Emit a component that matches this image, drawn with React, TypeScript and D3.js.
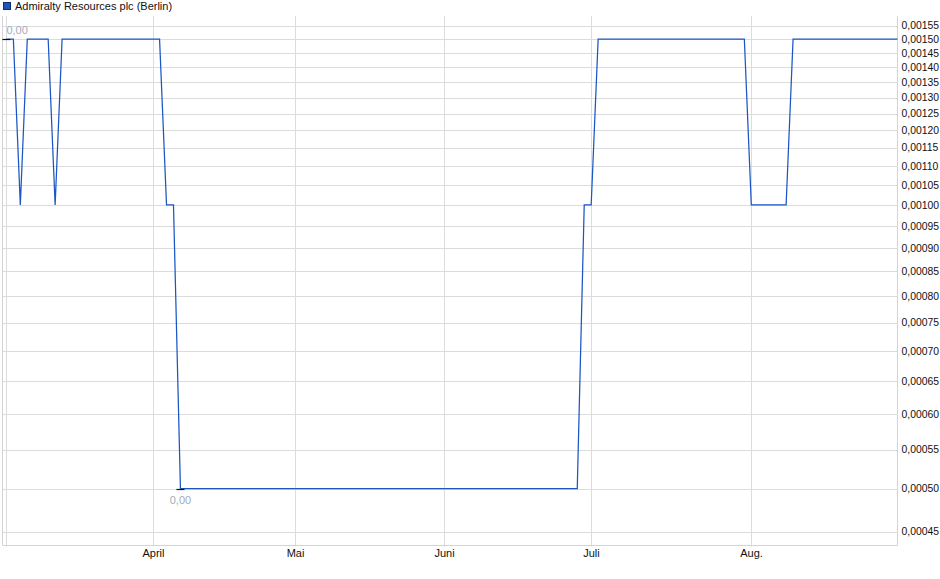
import { useEffect, useRef } from 'react'
import * as d3 from 'd3'

// Admiralty Resources plc (Berlin), one value per trading day (Feb 29 .. Aug 30)
const prices: number[] = [
  0.0015, 0.0015, 0.0010, 0.0015, 0.0015, 0.0015, 0.0015, 0.0010, 0.0015, 0.0015,
  0.0015, 0.0015, 0.0015, 0.0015, 0.0015, 0.0015, 0.0015, 0.0015, 0.0015, 0.0015,
  0.0015, 0.0015, 0.0015, 0.0010, 0.0010, 0.0005, 0.0005, 0.0005, 0.0005, 0.0005,
  0.0005, 0.0005, 0.0005, 0.0005, 0.0005, 0.0005, 0.0005, 0.0005, 0.0005, 0.0005,
  0.0005, 0.0005, 0.0005, 0.0005, 0.0005, 0.0005, 0.0005, 0.0005, 0.0005, 0.0005,
  0.0005, 0.0005, 0.0005, 0.0005, 0.0005, 0.0005, 0.0005, 0.0005, 0.0005, 0.0005,
  0.0005, 0.0005, 0.0005, 0.0005, 0.0005, 0.0005, 0.0005, 0.0005, 0.0005, 0.0005,
  0.0005, 0.0005, 0.0005, 0.0005, 0.0005, 0.0005, 0.0005, 0.0005, 0.0005, 0.0005,
  0.0005, 0.0005, 0.0005, 0.0010, 0.0010, 0.0015, 0.0015, 0.0015, 0.0015, 0.0015,
  0.0015, 0.0015, 0.0015, 0.0015, 0.0015, 0.0015, 0.0015, 0.0015, 0.0015, 0.0015,
  0.0015, 0.0015, 0.0015, 0.0015, 0.0015, 0.0015, 0.0015, 0.0010, 0.0010, 0.0010,
  0.0010, 0.0010, 0.0010, 0.0015, 0.0015, 0.0015, 0.0015, 0.0015, 0.0015, 0.0015,
  0.0015, 0.0015, 0.0015, 0.0015, 0.0015, 0.0015, 0.0015, 0.0015, 0.0015,
]

// month gridlines, in trading-day positions
const monthTicks = [0, 21, 41.5, 62.8, 84, 107]
const monthLabels = ['', 'April', 'Mai', 'Juni', 'Juli', 'Aug.']

const priceTicks = [
  0.00045, 0.0005, 0.00055, 0.0006, 0.00065, 0.0007, 0.00075, 0.0008, 0.00085,
  0.0009, 0.00095, 0.001, 0.00105, 0.0011, 0.00115, 0.0012, 0.00125, 0.0013,
  0.00135, 0.0014, 0.00145, 0.0015, 0.00155,
]

const seriesName = 'Admiralty Resources plc (Berlin)'

const width = 940
const height = 579

export default function App() {
  const svgRef = useRef<SVGSVGElement>(null)

  useEffect(() => {
    if (!svgRef.current) return
    const svg = d3.select(svgRef.current)
    svg.selectAll('*').remove()

    const left = 2.5
    const right = 897.5
    const top = 16
    const bottom = 545.5
    const font = '"Liberation Sans", Arial, sans-serif'

    const x = d3.scaleLinear().domain([0, prices.length - 1]).range([6.4, 897.5])
    const y = d3.scaleLog().domain([0.000435, 0.001587]).range([bottom, top])

    // horizontal grid
    svg.append('g')
      .selectAll('line')
      .data(priceTicks)
      .enter()
      .append('line')
      .attr('x1', left)
      .attr('x2', right)
      .attr('y1', d => Math.round(y(d)) + 0.5)
      .attr('y2', d => Math.round(y(d)) + 0.5)
      .attr('stroke', '#dcdcdc')

    // vertical grid
    svg.append('g')
      .selectAll('line')
      .data(monthTicks)
      .enter()
      .append('line')
      .attr('x1', d => Math.round(x(d)) + 0.5)
      .attr('x2', d => Math.round(x(d)) + 0.5)
      .attr('y1', top)
      .attr('y2', bottom + 1)
      .attr('stroke', '#dcdcdc')

    // frame (left, bottom, right)
    svg.append('path')
      .attr('d', `M${left},${top}V${bottom}H${right}V${top}`)
      .attr('fill', 'none')
      .attr('stroke', '#d4d4d4')

    // y labels on the right
    svg.append('g')
      .selectAll('text')
      .data(priceTicks)
      .enter()
      .append('text')
      .attr('x', 901.5)
      .attr('y', d => y(d))
      .attr('dy', '0.35em')
      .style('font-family', font)
      .style('font-size', '10.4px')
      .style('fill', '#111')
      .text(d => d3.format('.5f')(d).replace('.', ','))

    // x labels
    svg.append('g')
      .selectAll('text')
      .data(monthTicks)
      .enter()
      .append('text')
      .attr('x', d => Math.round(x(d)) + 0.5)
      .attr('y', 557)
      .attr('text-anchor', 'middle')
      .style('font-family', font)
      .style('font-size', '11px')
      .style('fill', '#111')
      .text((_, i) => monthLabels[i])

    // price line
    const line = d3.line<number>()
      .x((_, i) => x(i))
      .y(d => y(d))
    svg.append('path')
      .datum(prices)
      .attr('d', line)
      .attr('fill', 'none')
      .attr('stroke', '#1b56c4')
      .attr('stroke-width', 1.25)

    // high / low markers
    const hi = d3.maxIndex(prices)
    const lo = d3.minIndex(prices)
    const markers = [
      { i: hi, dy: -6 },
      { i: lo, dy: 14 },
    ]
    markers.forEach(m => {
      const px = x(m.i)
      const py = Math.round(y(prices[m.i])) + 0.5
      svg.append('line')
        .attr('x1', px - 4)
        .attr('x2', px + 4)
        .attr('y1', py)
        .attr('y2', py)
        .attr('stroke', '#111')
        .attr('stroke-width', 1.2)
      svg.append('text')
        .attr('x', Math.max(px, 6))
        .attr('y', py + m.dy)
        .attr('text-anchor', m.i === 0 ? 'start' : 'middle')
        .style('font-family', font)
        .style('font-size', '11px')
        .style('fill', '#a2acbc')
        .text(d3.format('.2f')(prices[m.i]).replace('.', ','))
    })

    // legend
    svg.append('rect')
      .attr('x', 3.5)
      .attr('y', 2.5)
      .attr('width', 7)
      .attr('height', 7)
      .attr('fill', '#1f55b8')
      .attr('stroke', '#0c2e6e')
    svg.append('text')
      .attr('x', 15)
      .attr('y', 6)
      .attr('dy', '0.35em')
      .style('font-family', font)
      .style('font-size', '11px')
      .style('fill', '#111')
      .text(seriesName)
  }, [])

  return (
    <svg
      ref={svgRef}
      width={width}
      height={height}
      style={{ position: 'absolute', left: 0, top: 0, background: '#fff' }}
    />
  )
}
